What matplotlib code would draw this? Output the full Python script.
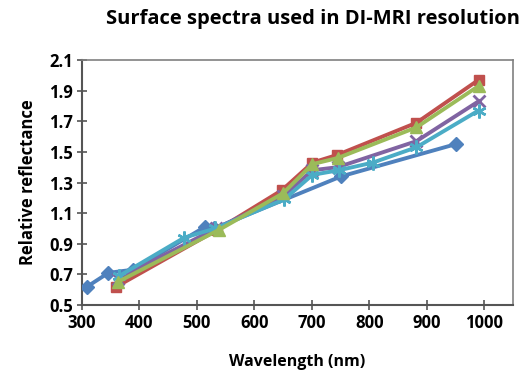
import matplotlib
matplotlib.use("Agg")
import matplotlib.pyplot as plt

plt.rcParams['font.family'] = ['Open Sans', 'DejaVu Sans']

# data (wavelength nm, relative reflectance)
wl_blue = [309, 346, 388, 514, 530, 751, 950]
rf_blue = [0.62, 0.71, 0.73, 1.01, 1.00, 1.34, 1.55]

wl_red = [360, 535, 648, 701, 744, 882, 990]
rf_red = [0.62, 0.99, 1.25, 1.43, 1.48, 1.69, 1.97]

wl_purple = [362, 533, 650, 701, 745, 882, 990]
rf_purple = [0.67, 1.00, 1.21, 1.38, 1.40, 1.57, 1.83]

wl_cyan = [365, 478, 532, 652, 701, 747, 806, 882, 990]
rf_cyan = [0.69, 0.94, 1.00, 1.19, 1.35, 1.38, 1.43, 1.53, 1.77]

wl_green = [362, 538, 650, 701, 745, 882, 990]
rf_green = [0.65, 0.99, 1.23, 1.42, 1.46, 1.66, 1.93]

fig = plt.figure(figsize=(5.23, 3.72), dpi=100)
ax = fig.add_axes([82/523, 1 - 305/372, (513-82)/523, (305-60)/372])

lw = 2.8
ax.plot(wl_blue, rf_blue, color='#4F81BD', lw=lw, marker='D', ms=7, zorder=3)
ax.plot(wl_red, rf_red, color='#C0504D', lw=lw, marker='s', ms=7, zorder=3)
ax.plot(wl_purple, rf_purple, color='#8064A2', lw=lw, marker='x', ms=9, mew=2, zorder=3)
ax.plot(wl_cyan, rf_cyan, color='#4BACC6', lw=lw, marker=(6, 2, 0), ms=10, mew=1.8, zorder=3)
ax.plot(wl_green, rf_green, color='#9BBB59', lw=lw, marker='^', ms=9, zorder=4)

ax.set_xlim(300, 1050)
ax.set_ylim(0.5, 2.1)
ax.set_xticks(range(300, 1001, 100))
ax.set_yticks([0.5, 0.7, 0.9, 1.1, 1.3, 1.5, 1.7, 1.9, 2.1])
ax.set_yticklabels(['0.5', '0.7', '0.9', '1.1', '1.3', '1.5', '1.7', '1.9', '2.1'])

for s in ['top', 'right']:
    ax.spines[s].set_color('#808080')
    ax.spines[s].set_linewidth(1.2)
for s in ['left', 'bottom']:
    ax.spines[s].set_color('#555555')
    ax.spines[s].set_linewidth(1.5)

ax.tick_params(axis='both', direction='inout', length=7, width=1.2, color='#555555',
               labelsize=12, pad=3)
for lab in ax.get_xticklabels() + ax.get_yticklabels():
    lab.set_fontweight('bold')

ax.set_xlabel('Wavelength (nm)', fontsize=11.5, fontweight='bold', labelpad=16)
ax.set_ylabel('Relative reflectance', fontsize=12, fontweight='bold', labelpad=9)
fig.text(0.598, 0.948, 'Surface spectra used in DI-MRI resolution', ha='center', va='center',
         fontsize=14.5, fontweight='bold')

fig.savefig('out.png', dpi=100)
